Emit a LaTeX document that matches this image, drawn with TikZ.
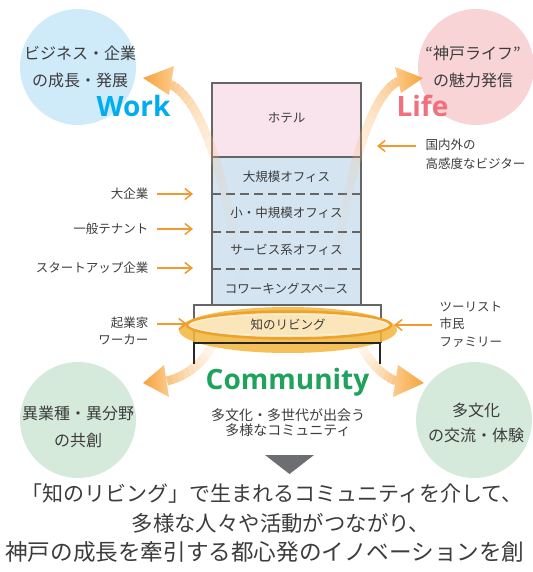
\documentclass[tikz,border=0pt]{standalone}
\usepackage{fontspec}
\newfontfamily\jp{Noto Sans CJK JP}
\newfontfamily\lat{Open Sans}
\usetikzlibrary{arrows.meta}

\definecolor{txt}{HTML}{3C3C3C}
\definecolor{bord}{HTML}{666666}
\definecolor{hotelc}{HTML}{F9E3EC}
\definecolor{officec}{HTML}{D4E4F1}
\definecolor{arr}{HTML}{F39A2E}
\definecolor{shaftc}{HTML}{F9BC72}
\definecolor{headA}{HTML}{F7A23C}
\definecolor{headB}{HTML}{FCCB8C}
\definecolor{cblue}{HTML}{CFEAF8}
\definecolor{cpink}{HTML}{F9D4D6}
\definecolor{cgreen}{HTML}{D6EADC}
\definecolor{workc}{HTML}{00AEEF}
\definecolor{lifec}{HTML}{F2707E}
\definecolor{commc}{HTML}{1FA25C}
\definecolor{ringo}{HTML}{F3B53C}
\definecolor{ringi}{HTML}{EEA22A}
\definecolor{ringf}{HTML}{FBE5BA}
\definecolor{tric}{HTML}{6D6E71}

\tikzset{
  bubble/.style={circle, inner sep=0pt, minimum size=116pt},
  bubtext/.style={align=center, text=txt, font=\jp\fontsize{16}{27}\selectfont},
  floortext/.style={text=txt, font=\jp\fontsize{12.5}{14}\selectfont},
  sidelabel/.style={text=txt, font=\jp\fontsize{12.5}{17.5}\selectfont},
  bigword/.style={font=\lat\bfseries\fontsize{28}{30}\selectfont, anchor=base, inner sep=0pt},
  smallarr/.style={draw=arr, line width=1.5pt, -{Straight Barb[length=7pt,width=11pt]}},
  shaft/.style={draw=shaftc, line width=9pt},
  towerline/.style={draw=bord, line width=2.2pt},
  floorsep/.style={draw=bord, line width=1.3pt, dash pattern=on 9pt off 5pt},
  bottomtext/.style={text=txt, inner sep=0pt}
}

\begin{document}
\begin{tikzpicture}[x=1pt, y=-1pt]
\useasboundingbox (0,0) rectangle (532,572);

% bubbles
\node[bubble, fill=cblue] (cwork) at (78,67) {};
\node[bubble, fill=cpink] (clife) at (476,67) {};
\node[bubble, fill=cgreen] (cco1) at (78,420) {};
\node[bubble, fill=cgreen] (cco2) at (474,420) {};

\node[bubtext] (twork) at (80,66.5) {ビジネス・企業\\の成長・発展};
\node[bubtext] (tlife) at (473,66.5) {“神戸ライフ”\\の魅力発信};
\node[bubtext] (tco1) at (78,426.5) {異業種・異分野\\の共創};
\node[bubtext, font=\jp\fontsize{16}{25}\selectfont] (tco2) at (476,422.5) {多文化\\の交流・体験};

% tower
\node[towerline, fill=officec, minimum width=149pt, minimum height=148pt, inner sep=0pt] (office) at (286.5,231) {};
\node[towerline, fill=hotelc, minimum width=149pt, minimum height=74pt, inner sep=0pt] (hotel) at (286.5,120) {};
\node[floortext] (fhotel) at (286.5,118) {ホテル};
\draw[floorsep] (212,194) -- (361,194);
\draw[floorsep] (212,232) -- (361,232);
\draw[floorsep] (212,269) -- (361,269);
\node[floortext] (f1) at (286.5,177) {大規模オフィス};
\node[floortext] (f2) at (286.5,213) {小・中規模オフィス};
\node[floortext] (f3) at (286.5,250) {サービス系オフィス};
\node[floortext] (f4) at (286.5,289) {コワーキングスペース};

% base
\fill[white] (194,305) rectangle (381,343);
\draw[draw=bord, line width=2pt] (194,343) -- (194,305) -- (381,305) -- (381,343);

% big arrows shafts (fading by segments)
\coordinate (ws) at (246,318);
\coordinate (we) at (167,83);
\coordinate (ls) at (328,318);
\coordinate (le) at (399,81);
\coordinate (cls) at (222,322);
\coordinate (cle) at (167,381);
\coordinate (crs) at (352,322);
\coordinate (cre) at (396,381);
\path (ws) .. controls (232,200) and (205,95) .. (we)
  \foreach \i in {0,...,30} { coordinate[pos=\i/30] (w\i) };
\path (ls) .. controls (342,200) and (366,95) .. (le)
  \foreach \i in {0,...,30} { coordinate[pos=\i/30] (l\i) };
\path (cls) .. controls (214,352) and (195,374) .. (cle)
  \foreach \i in {0,...,14} { coordinate[pos=\i/14] (p\i) };
\path (crs) .. controls (360,352) and (378,374) .. (cre)
  \foreach \i in {0,...,14} { coordinate[pos=\i/14] (q\i) };
\foreach \i in {1,...,30} {
  \pgfmathtruncatemacro\k{\i-1}
  \pgfmathsetmacro\op{0.85*(\i/30)^2.3}
  \draw[shaft, opacity=\op] (w\k) -- (w\i);
  \draw[shaft, opacity=\op] (l\k) -- (l\i);
}
\foreach \i in {1,...,14} {
  \pgfmathtruncatemacro\k{\i-1}
  \pgfmathsetmacro\op{0.85*(\i/14)^1.8}
  \draw[shaft, opacity=\op] (p\k) -- (p\i);
  \draw[shaft, opacity=\op] (q\k) -- (q\i);
}

% arrow heads
\shade[left color=headA, right color=headB] (143,78) -- (174,66) -- (169,95) -- cycle;
\shade[left color=headB, right color=headA] (423,78) -- (395,67) -- (401,93) -- cycle;
\shade[left color=headA, right color=headB] (143,383) -- (164,365) -- (169,397) -- cycle;
\shade[left color=headB, right color=headA] (424,383) -- (398,365) -- (393,397) -- cycle;

% ring
\fill[ringo, opacity=0.85] (288,330) ellipse [x radius=109pt, y radius=23pt];
\fill[ringf] (289,325) ellipse [x radius=101pt, y radius=12.5pt];
\draw[ringi, line width=2.5pt] (289,325) ellipse [x radius=102pt, y radius=13.5pt];
\draw[white, opacity=0.5, line width=0.8pt] (289,325) ellipse [x radius=99pt, y radius=10.5pt];
\node[floortext] (living) at (288,325) {知のリビング};

% black base line and legs
\draw[black!85, line width=2.2pt] (194,364) -- (194,343) -- (380,343) -- (380,364);

% words
\node[bigword, text=workc] (work) at (133.5,117) {Work};
\node[bigword, text=lifec] (life) at (422.5,117) {Life};
\node[bigword, text=commc] (comm) at (287.5,389) {Community};
\node[align=center, text=txt, font=\jp\fontsize{14}{15.5}\selectfont] (commsub) at (288,422.5) {多文化・多世代が出会う\\多様なコミュニティ};

% left labels
\node[sidelabel, anchor=east] (l1) at (152,194) {大企業};
\node[sidelabel, anchor=east] (l2) at (152,229) {一般テナント};
\node[sidelabel, anchor=east] (l3) at (152,268) {スタートアップ企業};
\node[sidelabel, anchor=east, align=right, font=\jp\fontsize{12.5}{16.5}\selectfont] (l4) at (152,331) {起業家\\ワーカー};
\coordinate (a1) at (193,194);
\coordinate (a2) at (193,229);
\coordinate (a3) at (193,268);
\coordinate (a4s) at (157,324);
\coordinate (a4) at (187,324);
\draw[smallarr] ([xshift=5pt]l1.east) -- (a1);
\draw[smallarr] ([xshift=5pt]l2.east) -- (a2);
\draw[smallarr] ([xshift=5pt]l3.east) -- (a3);
\draw[smallarr] (a4s) -- (a4);

% right labels
\node[sidelabel, anchor=west, align=left, font=\jp\fontsize{12.5}{19}\selectfont] (r1) at (422,154.5) {国内外の\\高感度なビジター};
\node[sidelabel, anchor=west, align=left] (r2) at (436,324.5) {ツーリスト\\市民\\ファミリー};
\coordinate (b1s) at (416,146);
\coordinate (b1) at (377,146);
\coordinate (b2s) at (432,325);
\coordinate (b2) at (394,325);
\draw[smallarr] (b1s) -- (b1);
\draw[smallarr] (b2s) -- (b2);

% down triangle
\fill[tric] (265,455) -- (314,455) -- (289.5,474) -- cycle;

% bottom statement
\node[bottomtext, font=\jp\fontsize{21}{24}\selectfont] (s1) at (272,494) {「知のリビング」で生まれるコミュニティを介して、};
\node[bottomtext, font=\jp\fontsize{21.4}{24}\selectfont] (s2) at (281,523) {多様な人々や活動がつながり、};
\node[bottomtext, font=\jp\fontsize{22.6}{24}\selectfont, anchor=west] (s3) at (5,552) {神戸の成長を牽引する都心発のイノベーションを創};
\end{tikzpicture}
\end{document}
